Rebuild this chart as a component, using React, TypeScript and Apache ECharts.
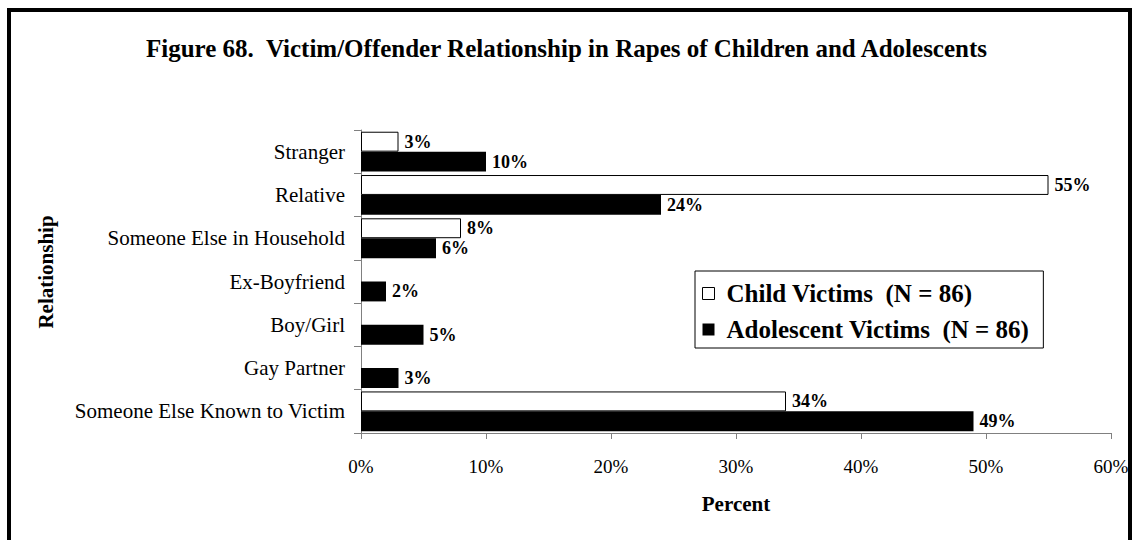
import React, { useEffect, useRef } from "react";
import * as echarts from "echarts";

const categories = [
  "Stranger",
  "Relative",
  "Someone Else in Household",
  "Ex-Boyfriend",
  "Boy/Girl",
  "Gay Partner",
  "Someone Else Known to Victim",
];
const childValues = [3, 55, 8, 0, 0, 0, 34];
const adolescentValues = [10, 24, 6, 2, 5, 3, 49];
const xTicks = [0, 10, 20, 30, 40, 50, 60];
const seriesNames = ["Child Victims  (N = 86)", "Adolescent Victims  (N = 86)"];
const titleText = "Figure 68.  Victim/Offender Relationship in Rapes of Children and Adolescents";
const yAxisTitle = "Relationship";
const xAxisTitle = "Percent";

const FONT = "'Liberation Serif', 'Times New Roman', serif";

export default function App() {
  const ref = useRef<HTMLDivElement>(null);
  useEffect(() => {
    if (!ref.current) return;
    const chart = echarts.init(ref.current, null, { renderer: "svg" });
    const labelFmt = (p: any) => (p.value ? p.value + "%" : "");
    const toBar = (arr: number[]) => arr.map((v) => (v === 0 ? "-" : v));
    const barLabel = {
      show: true,
      position: "right",
      distance: 6,
      formatter: labelFmt,
      fontFamily: FONT,
      fontSize: 18,
      fontWeight: "bold",
      color: "#000",
    };
    chart.setOption({
      animation: false,
      backgroundColor: "#fff",
      textStyle: { fontFamily: FONT, color: "#000" },
      title: {
        text: titleText,
        left: "center",
        top: 31,
        textStyle: { fontFamily: FONT, fontSize: 25, fontWeight: "bold", color: "#000" },
      },
      legend: {
        orient: "vertical",
        left: 695,
        top: 271,
        padding: [10, 14, 6, 7],
        borderColor: "#000",
        borderWidth: 1,
        itemWidth: 12,
        itemHeight: 12,
        itemGap: 11,
        icon: "rect",
        textStyle: {
          fontFamily: FONT,
          fontSize: 25,
          fontWeight: "bold",
          color: "#000",
          padding: [0, 0, 0, 7],
        },
        data: [
          { name: seriesNames[0], itemStyle: { color: "#fff", borderColor: "#000", borderWidth: 1 } },
          { name: seriesNames[1], itemStyle: { color: "#000" } },
        ],
      },
      grid: { left: 361, right: 22, top: 130, bottom: 107 },
      xAxis: {
        type: "value",
        min: 0,
        max: 60,
        interval: 10,
        name: xAxisTitle,
        nameLocation: "middle",
        nameGap: 60,
        nameTextStyle: { fontFamily: FONT, fontSize: 21, fontWeight: "bold", color: "#000" },
        axisLine: { show: true, lineStyle: { color: "#808080", width: 1 } },
        axisTick: { show: true, length: 6, lineStyle: { color: "#808080" } },
        splitLine: { show: false },
        axisLabel: {
          margin: 24,
          fontFamily: FONT,
          fontSize: 19,
          color: "#000",
          formatter: (v: number) => (xTicks.includes(v) ? v + "%" : ""),
        },
      },
      yAxis: {
        type: "category",
        data: categories,
        inverse: true,
        axisLine: { show: true, lineStyle: { color: "#808080", width: 1 } },
        axisTick: { show: true, length: 7, lineStyle: { color: "#808080" } },
        axisLabel: { margin: 16, fontFamily: FONT, fontSize: 21, color: "#000" },
      },
      series: [
        {
          name: seriesNames[0],
          type: "bar",
          data: toBar(childValues),
          barGap: "0%",
          barCategoryGap: "8%",
          itemStyle: { color: "#fff", borderColor: "#000", borderWidth: 1 },
          label: barLabel,
        },
        {
          name: seriesNames[1],
          type: "bar",
          data: toBar(adolescentValues),
          barGap: "0%",
          barCategoryGap: "8%",
          itemStyle: { color: "#000" },
          label: barLabel,
        },
      ],
      graphic: [
        {
          type: "text",
          x: 46,
          y: 272,
          rotation: Math.PI / 2,
          style: {
            text: yAxisTitle,
            fontFamily: FONT,
            fontSize: 21,
            fontWeight: "bold",
            fill: "#000",
            align: "center",
            verticalAlign: "middle",
          },
        },
        {
          type: "rect",
          silent: true,
          shape: { x: 9, y: 10, width: 1121, height: 540 },
          style: { fill: "none", stroke: "#000", lineWidth: 4 },
        },
      ],
    });
    return () => chart.dispose();
  }, []);
  return (
    <div
      ref={ref}
      style={{ position: "absolute", left: 0, top: 0, width: 1133, height: 540 }}
    />
  );
}
